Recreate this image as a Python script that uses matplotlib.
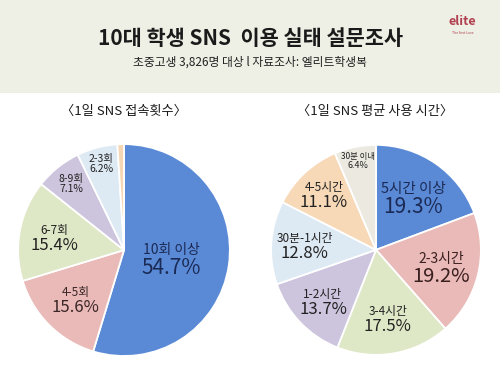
import numpy as np
import matplotlib
matplotlib.use("Agg")
import matplotlib.pyplot as plt
from matplotlib.patches import Rectangle

plt.rcParams['font.family'] = ['Noto Sans CJK KR', 'DejaVu Sans']

# 1일 SNS 접속횟수
left_labels = ["10회 이상", "4-5회", "6-7회", "8-9회", "2-3회", ""]
left_values = [54.7, 15.6, 15.4, 7.1, 6.2, 1.0]
left_colors = ["#5a8ad6", "#e9bab7", "#dfe8c6", "#cdc4de", "#dde9f3", "#f6d7b5"]

# 1일 SNS 평균 사용 시간
right_labels = ["5시간 이상", "2-3시간", "3-4시간", "1-2시간", "30분-1시간", "4-5시간", "30분 이내"]
right_values = [19.3, 19.2, 17.5, 13.7, 12.8, 11.1, 6.4]
right_colors = ["#5a8ad6", "#e9bab7", "#dfe8c6", "#cdc4de", "#dde9f3", "#f7d9b8", "#ece9e1"]

# label style: (radius, name size, pct size, color)
left_style = [(0.45, 10, 15, "#1b2a55"), (0.65, 8.5, 12, "#3a2626"),
              (0.67, 8.5, 12, "#222222"), (0.80, 7.5, 7.5, "#222222"),
              (0.84, 7.5, 7.5, "#222222"), None]
right_style = [(0.62, 10.5, 15, "#1b2a55"), (0.64, 10, 14.5, "#3a1f1f"),
               (0.66, 8.5, 12, "#222222"), (0.70, 8.5, 12, "#222222"),
               (0.68, 8.5, 12, "#222222"), (0.73, 8.5, 12, "#222222"),
               (0.86, 6, 6.5, "#222222")]

fig = plt.figure(figsize=(5.0, 3.88), dpi=100)
fig.patch.set_facecolor("white")
fig.patches.append(Rectangle((0, 0.760), 1, 0.240, transform=fig.transFigure,
                             facecolor="#eef0e5", edgecolor="none", zorder=0))

fig.text(0.5, 0.900, "10대 학생 SNS  이용 실태 설문조사", ha="center", va="center",
         fontsize=15, fontweight="bold", color="#1a1a1a")
fig.text(0.5, 0.840, "초중고생 3,826명 대상 l 자료조사: 엘리트학생복", ha="center",
         va="center", fontsize=8.5, color="#222222")
fig.text(0.925, 0.945, "elite", ha="center", va="center", fontsize=9,
         color="#b0404f", fontweight="bold")
fig.text(0.925, 0.915, "The first Love", ha="center", va="center", fontsize=2.5,
         color="#b0404f")

fig.text(0.248, 0.712, "〈1일 SNS 접속횟수〉", ha="center", va="center",
         fontsize=9.5, color="#1a1a1a", fontweight="medium")
fig.text(0.750, 0.712, "〈1일 SNS 평균 사용 시간〉", ha="center", va="center",
         fontsize=9.5, color="#1a1a1a", fontweight="medium")


def draw_pie(rect, labels, values, colors, styles):
    ax = fig.add_axes(rect)
    wedges, _ = ax.pie(values, colors=colors, startangle=90, counterclock=False,
                       radius=1.0, wedgeprops=dict(edgecolor="white", linewidth=1.3))
    ax.set_xlim(-1.02, 1.02)
    ax.set_ylim(-1.02, 1.02)
    ax.set_aspect("auto")
    ax.axis("off")
    for w, lab, val, st in zip(wedges, labels, values, styles):
        if st is None:
            continue
        r, s1, s2, c = st
        ang = np.deg2rad((w.theta1 + w.theta2) / 2)
        x, y = r * np.cos(ang), r * np.sin(ang)
        ax.text(x, y, lab, ha="center", va="bottom", fontsize=s1, color=c)
        ax.text(x, y, f"{val:.1f}%", ha="center", va="top", fontsize=s2, color=c)
    return ax


draw_pie([0.032, 0.077, 0.432, 0.557], left_labels, left_values, left_colors, left_style)
draw_pie([0.538, 0.080, 0.428, 0.552], right_labels, right_values, right_colors, right_style)

fig.savefig("out.png", dpi=100)
